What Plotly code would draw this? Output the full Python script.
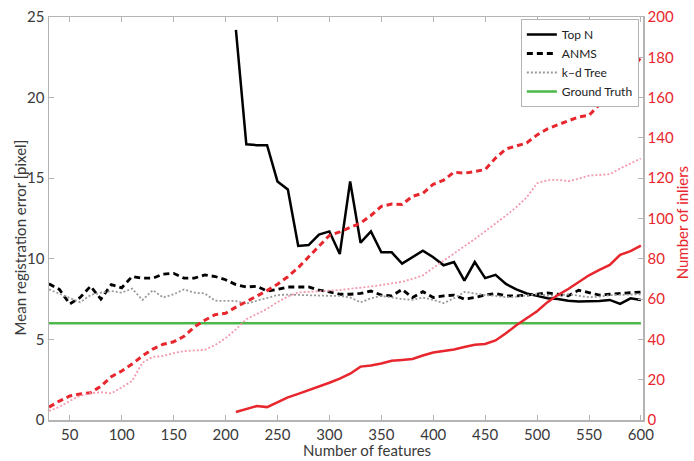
import plotly.graph_objects as go

# ---------------- data ----------------
features = list(range(30, 601, 10))          # 30, 40, ..., 600
features_topn = list(range(210, 601, 10))    # 210, ..., 600

err_topn = [24.2, 17.1, 17.05, 17.05, 14.8, 14.3, 10.8, 10.85, 11.5, 11.7,
            10.3, 14.8, 11.0, 11.7, 10.4, 10.4, 9.7, 10.1, 10.5, 10.1,
            9.6, 9.8, 8.65, 9.8, 8.8, 9.0, 8.44, 8.1, 7.85, 7.7,
            7.55, 7.5, 7.4, 7.35, 7.35, 7.38, 7.45, 7.2, 7.55, 7.45]

err_anms = [8.45, 8.1, 7.2, 7.6, 8.3, 7.5, 8.4, 8.2, 8.9, 8.8, 8.8, 9.05, 9.1, 8.8, 8.8, 9.0, 8.9, 8.7,
            8.4, 8.25, 8.3, 8.0, 8.1, 8.25, 8.25, 8.25, 8.05, 7.95,
            7.8, 7.8, 7.85, 8.0, 7.75, 7.7, 8.1, 7.6, 7.96, 7.6,
            7.7, 7.75, 7.5, 7.6, 7.75, 7.85, 7.7, 7.7, 7.75, 7.8,
            7.88, 7.8, 7.7, 8.05, 7.9, 7.75, 7.8, 7.85, 7.9, 7.94]

err_kd = [8.1, 7.85, 7.55, 7.3, 7.75, 7.9, 8.0, 7.9, 8.15, 7.45, 8.05, 7.6, 7.8, 8.1, 7.9, 7.85, 7.4, 7.4,
          7.38, 7.22, 7.4, 7.6, 7.75, 7.78, 7.75, 7.72, 7.7, 7.7,
          7.7, 7.6, 7.3, 7.55, 7.7, 7.6, 7.5, 7.45, 7.6, 7.45,
          7.25, 7.55, 7.94, 7.85, 7.75, 7.7, 7.62, 7.65, 7.72, 7.8,
          7.72, 7.72, 7.8, 7.72, 7.62, 7.65, 7.75, 7.76, 7.78, 7.8]

err_ground_truth = 6.0

inl_topn = [4, 5.5, 6.9, 6.4, 8.8, 11.2, 13, 14.8, 16.5, 18.5,
            20.5, 23, 26.5, 27, 28, 29.4, 29.8, 30.3, 32, 33.5,
            34.3, 35, 36.2, 37.3, 37.7, 39.5, 43, 47, 50.5, 54,
            58.5, 62, 65, 68.5, 71.8, 74.5, 77, 82, 83.8, 86.5]

inl_anms = [6.4, 9.4, 11.9, 12.9, 13.5, 16.8, 21.5, 24.3, 27.8, 31.8, 35.2, 37.6, 38.8, 41.5, 46.2, 49.5, 52.3, 53,
            56, 58.7, 61.3, 64.2, 67.4, 71.1, 75.6, 80.9, 86.6, 91.6,
            93.4, 95.4, 97.7, 101.5, 106, 107.2, 107, 111, 112.5, 117,
            119, 123, 122.5, 123.3, 124.3, 130, 134.5, 136, 137.5, 141.5,
            144.5, 146.5, 148.5, 150.4, 151.2, 156.5, 161, 166, 173, 180]

inl_kd = [4.5, 6.5, 9.5, 12, 13.3, 13.8, 13.2, 16.1, 19.3, 28.5, 31.3, 31.8, 33.2, 34.2, 34.4, 34.8, 37.2, 40.6,
          45, 50, 52.5, 55.2, 58.5, 61.3, 63.3, 63.7, 64, 64.2,
          64.5, 65, 65.7, 66.3, 67, 67.8, 68.6, 70, 71.8, 75.5,
          79.2, 82.6, 86.2, 89.8, 93.6, 97.6, 101.4, 105.6, 110.5, 117.5,
          119, 119.2, 118.5, 119.8, 121.3, 121.6, 122, 124.8, 127.2, 129.8]

x_ticks = [50, 100, 150, 200, 250, 300, 350, 400, 450, 500, 550, 600]
y_left_ticks = [0, 5, 10, 15, 20, 25]
y_right_ticks = [0, 20, 40, 60, 80, 100, 120, 140, 160, 180, 200]

x_title = "Number of features"
y_left_title = "Mean registration error [pixel]"
y_right_title = "Number of inliers"

# ---------------- style ----------------
RED = "#e8262d"
PINK = "#f29aae"
GRAY = "#9a9a9a"
GREEN = "#4cb84a"
AXIS = "#b4b4b4"
TXT = "#3a3a3a"
FONT = "Lato"

fig = go.Figure()

# inlier curves (right axis)
fig.add_trace(go.Scatter(x=features_topn, y=inl_topn, yaxis="y2", mode="lines",
                         line=dict(color=RED, width=2.5), showlegend=False))
fig.add_trace(go.Scatter(x=features, y=inl_anms, yaxis="y2", mode="lines",
                         line=dict(color=RED, width=3, dash="6px,4px"), showlegend=False))
fig.add_trace(go.Scatter(x=features, y=inl_kd, yaxis="y2", mode="lines",
                         line=dict(color=PINK, width=1.8, dash="2px,2px"), showlegend=False))

# error curves (left axis)
fig.add_trace(go.Scatter(x=features_topn, y=err_topn, mode="lines", name="Top N",
                         line=dict(color="black", width=2.5)))
fig.add_trace(go.Scatter(x=features, y=err_anms, mode="lines", name="ANMS",
                         line=dict(color="black", width=2.8, dash="6px,4px")))
fig.add_trace(go.Scatter(x=features, y=err_kd, mode="lines", name="k\u2013d Tree",
                         line=dict(color=GRAY, width=1.8, dash="2px,2px")))
fig.add_trace(go.Scatter(x=features, y=[err_ground_truth] * len(features), mode="lines",
                         name="Ground Truth", line=dict(color=GREEN, width=2.5)))

fig.update_layout(
    width=694, height=461,
    margin=dict(l=49, r=51, t=17, b=41),
    paper_bgcolor="white", plot_bgcolor="white",
    font=dict(family=FONT, color=TXT, size=15),
    xaxis=dict(range=[30, 602], tickvals=x_ticks, ticks="inside", ticklen=5,
               tickcolor=AXIS, showline=True, linecolor=AXIS, linewidth=1.5, mirror="ticks",
               showgrid=False, zeroline=False, automargin=False,
               tickfont=dict(size=15, color=TXT)),
    yaxis=dict(range=[0, 25], tickvals=y_left_ticks, ticks="inside", ticklen=5,
               tickcolor=AXIS, showline=True, linecolor=AXIS, linewidth=1.5,
               showgrid=False, zeroline=False, automargin=False,
               tickfont=dict(size=15, color=TXT)),
    yaxis2=dict(range=[0, 200], tickvals=y_right_ticks, overlaying="y", side="right",
                ticks="inside", ticklen=5, tickcolor=AXIS, showline=True, linecolor=AXIS,
                linewidth=1.5, showgrid=False, zeroline=False, automargin=False,
                tickfont=dict(size=15, color=RED)),
    legend=dict(x=0.993, y=0.995, xanchor="right", yanchor="top", bgcolor="white",
                bordercolor=AXIS, borderwidth=1, font=dict(size=12, color="#222"),
                tracegroupgap=0, itemwidth=30),
    annotations=[
        dict(text=x_title, xref="paper", yref="paper", x=0.535, y=0, yshift=-30,
             xanchor="center", yanchor="middle", showarrow=False,
             font=dict(size=15, color=TXT)),
        dict(text=y_left_title, xref="paper", yref="paper", x=0, xshift=-29, y=0.453,
             xanchor="center", yanchor="middle", textangle=-90, showarrow=False,
             font=dict(size=15, color=TXT)),
        dict(text=y_right_title, xref="paper", yref="paper", x=1, xshift=39, y=0.488,
             xanchor="center", yanchor="middle", textangle=-90, showarrow=False,
             font=dict(size=15, color=RED)),
    ],
)

fig.write_html(
    "out.html",
    config={"displayModeBar": False, "staticPlot": True},
    post_script="document.body.style.margin='0';document.body.style.padding='0';"
                "document.body.style.overflow='hidden';",
)
